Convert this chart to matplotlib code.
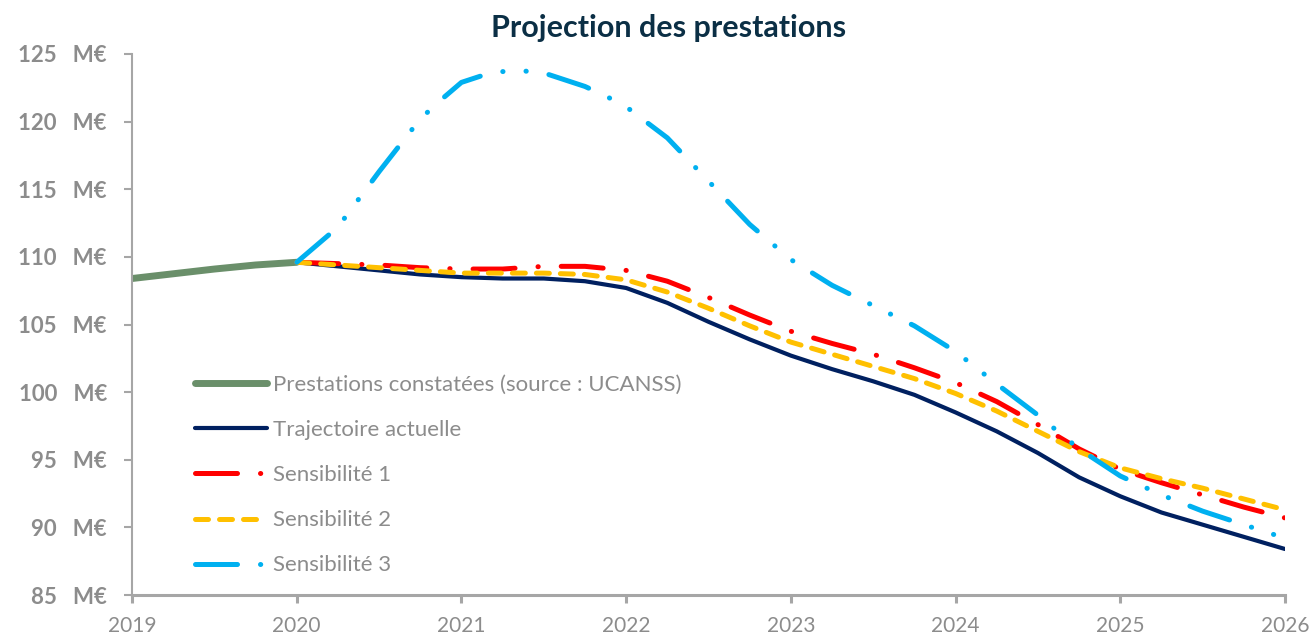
import matplotlib
matplotlib.use("Agg")
import matplotlib.pyplot as plt
from matplotlib.ticker import FixedLocator, FuncFormatter

plt.rcParams['font.family'] = ['Lato', 'DejaVu Sans']

# données (lues sur le graphique, pas trimestriel)
annees_hist = [2019, 2019.25, 2019.5, 2019.75, 2020]
prestations_constatees = [108.4, 108.75, 109.1, 109.4, 109.6]

annees_proj = [2020, 2020.25, 2020.5, 2020.75, 2021, 2021.25, 2021.5, 2021.75,
               2022, 2022.25, 2022.5, 2022.75, 2023, 2023.25, 2023.5, 2023.75,
               2024, 2024.25, 2024.5, 2024.75, 2025, 2025.25, 2025.5, 2025.75, 2026]
trajectoire_actuelle = [109.6, 109.3, 109.0, 108.7, 108.5, 108.4, 108.4, 108.2,
                        107.7, 106.6, 105.2, 103.9, 102.7, 101.7, 100.8, 99.8,
                        98.5, 97.1, 95.5, 93.7, 92.3, 91.1, 90.2, 89.3, 88.4]
sensibilite_1 = [109.6, 109.5, 109.4, 109.2, 109.1, 109.1, 109.3, 109.3,
                 109.0, 108.2, 107.0, 105.7, 104.5, 103.6, 102.8, 101.8,
                 100.7, 99.3, 97.6, 95.8, 94.3, 93.3, 92.4, 91.5, 90.7]
sensibilite_2 = [109.6, 109.4, 109.2, 109.0, 108.8, 108.8, 108.8, 108.7,
                 108.3, 107.4, 106.2, 104.9, 103.7, 102.8, 101.9, 101.0,
                 99.9, 98.6, 97.1, 95.6, 94.4, 93.6, 92.9, 92.1, 91.3]

# sensibilité 3 : points plus serrés autour du pic
annees_s3 = [2020, 2020.25, 2020.5, 2020.75, 2020.875, 2021, 2021.125, 2021.25,
             2021.375, 2021.5, 2021.625, 2021.75, 2021.875, 2022, 2022.25, 2022.5,
             2022.75, 2023, 2023.25, 2023.5, 2023.75, 2024, 2024.25, 2024.5,
             2024.75, 2025, 2025.25, 2025.5, 2025.75, 2026]
sensibilite_3 = [109.6, 112.2, 116.3, 120.2, 121.6, 122.9, 123.4, 123.7,
                 123.75, 123.6, 123.1, 122.6, 121.9, 121.1, 118.8, 115.6,
                 112.4, 109.8, 107.9, 106.4, 104.9, 103.0, 100.6, 98.3,
                 95.8, 93.8, 92.4, 91.2, 90.2, 89.2]

annees_ticks = [2019, 2020, 2021, 2022, 2023, 2024, 2025, 2026]
ticks_y = [85, 90, 95, 100, 105, 110, 115, 120, 125]

gris_texte = '#8C8C8C'
gris_axe = '#A6A6A6'

fig = plt.figure(figsize=(13.14, 6.37), dpi=100)
ax = fig.add_axes([132 / 1314, 1 - 595 / 637, (1285 - 132) / 1314, (595 - 54) / 637])

ax.plot(annees_hist, prestations_constatees, color='#6A8F6A', lw=5,
        solid_capstyle='round', label='Prestations constatées (source : UCANSS)')
ax.plot(annees_proj, trajectoire_actuelle, color='#002060', lw=3,
        solid_capstyle='round', label='Trajectoire actuelle')
ax.plot(annees_proj, sensibilite_1, color='#FF0000', lw=3.6,
        dashes=(8.4, 4.6, 0.05, 4.6), dash_capstyle='round', label='Sensibilité 1')
ax.plot(annees_proj, sensibilite_2, color='#FFC000', lw=3.6,
        dashes=(2.6, 2.2), dash_capstyle='round', label='Sensibilité 2')
ax.plot(annees_s3, sensibilite_3, color='#00B0F0', lw=3.6,
        dashes=(8.4, 4.6, 0.05, 4.6, 0.05, 4.6), dash_capstyle='round', label='Sensibilité 3')

ax.set_xlim(2019, 2026)
ax.set_ylim(85, 125)
ax.xaxis.set_major_locator(FixedLocator(annees_ticks))
ax.yaxis.set_major_locator(FixedLocator(ticks_y))
ax.yaxis.set_major_formatter(FuncFormatter(lambda v, p: '{:d}   M€'.format(int(v))))

for s in ['top', 'right']:
    ax.spines[s].set_visible(False)
ax.spines['left'].set_color(gris_axe)
ax.spines['left'].set_linewidth(1.5)
ax.spines['bottom'].set_color(gris_axe)
ax.spines['bottom'].set_linewidth(2.2)

ax.tick_params(axis='y', colors=gris_axe, length=6, width=1.5, pad=12,
               labelcolor=gris_texte, labelsize=16)
ax.tick_params(axis='x', colors=gris_axe, length=6, width=2.2, pad=9,
               labelcolor=gris_texte, labelsize=15)
for lab in ax.get_yticklabels():
    lab.set_fontweight('bold')

leg = ax.legend(loc='upper left', bbox_to_anchor=(195 / 1314, 1 - 375 / 637),
                bbox_transform=fig.transFigure, frameon=False, fontsize=16,
                handlelength=3.24, handletextpad=0.27, labelspacing=1.13,
                borderpad=0, borderaxespad=0)
for t in leg.get_texts():
    t.set_color(gris_texte)

fig.text(669 / 1314, 1 - 28 / 637, 'Projection des prestations', ha='center', va='center',
         fontsize=22, fontweight='bold', color='#0B2F45')

fig.savefig('out.png', dpi=100)
